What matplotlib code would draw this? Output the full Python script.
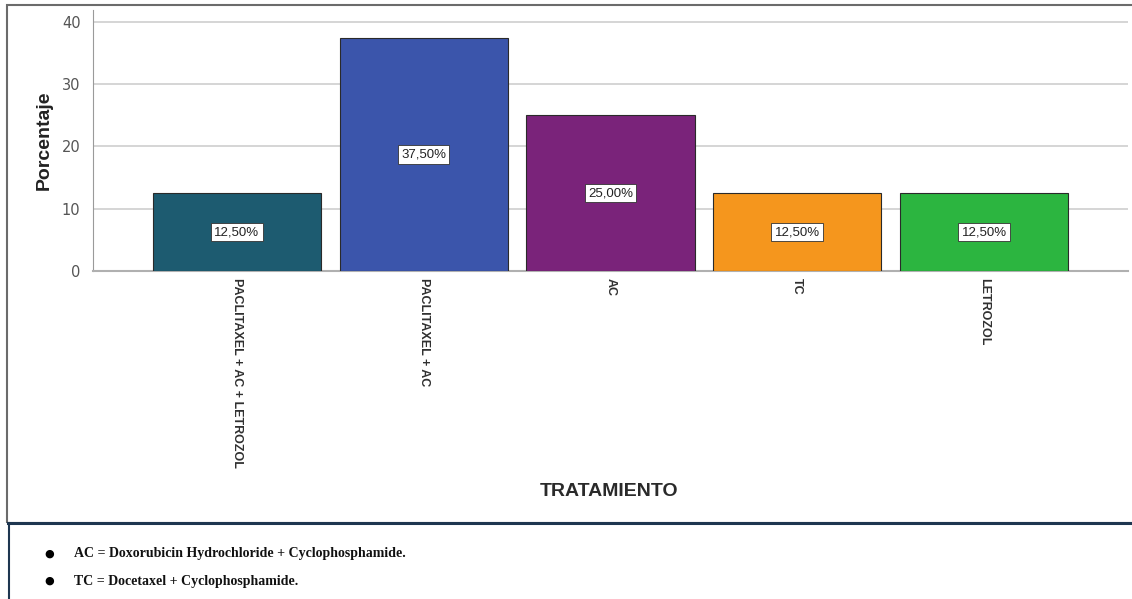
import matplotlib.pyplot as plt
from matplotlib.patches import Rectangle
from matplotlib.lines import Line2D

# treatments and share of patients (%)
tratamientos = ["PACLITAXEL + AC + LETROZOL", "PACLITAXEL + AC", "AC", "TC", "LETROZOL"]
porcentajes = [12.5, 37.5, 25.0, 12.5, 12.5]
colores = ["#1d5b70", "#3b55ab", "#7a237a", "#f5961d", "#2cb540"]
notas = ["AC = Doxorubicin Hydrochloride + Cyclophosphamide.",
         "TC = Docetaxel + Cyclophosphamide."]

W, H = 1132, 599
fig = plt.figure(figsize=(W / 100, H / 100), dpi=100)

# frame around the chart and the footnote area
fig.add_artist(Rectangle((7 / W, 1 - 523 / H), 1.0, (523 - 5) / H, transform=fig.transFigure,
                         facecolor="none", edgecolor="#6b6b6b", linewidth=1.5))
fig.add_artist(Line2D([8 / W, 1.0], [1 - 523 / H, 1 - 523 / H], transform=fig.transFigure,
                      color="#1e3650", linewidth=2.2))
fig.add_artist(Line2D([8.5 / W, 8.5 / W], [0, 1 - 523 / H], transform=fig.transFigure,
                      color="#1e3650", linewidth=1.5))

# axes placement in pixels
left, right, bottom, top = 93, 1128, 271, 9.5
ax = fig.add_axes([left / W, 1 - bottom / H, (right - left) / W, (bottom - top) / H])

x = range(len(tratamientos))
bars = ax.bar(x, porcentajes, width=0.9, color=colores, edgecolor="#2a2a2a", linewidth=0.8, zorder=3)

for b, v in zip(bars, porcentajes):
    ax.text(b.get_x() + b.get_width() / 2, v / 2, "{0:.2f}%".format(v).replace(".", ","),
            ha="center", va="center", fontsize=9.5, color="#222222", family="Liberation Sans",
            bbox=dict(boxstyle="square,pad=0.25", facecolor="white", edgecolor="#333333", linewidth=0.6),
            zorder=4)

ax.set_xlim(-0.77, 4.77)
ax.set_ylim(0, 42)
ax.set_yticks([0, 10, 20, 30, 40])
ax.yaxis.grid(True, color="#d2d2d2", linewidth=1.3, zorder=0)
ax.set_axisbelow(True)

ax.set_xticks(list(x))
ax.set_xticklabels(tratamientos, rotation=-90, va="top", ha="center",
                   fontsize=9, color="#303030", family="Liberation Sans", fontweight="bold")
ax.tick_params(axis="both", length=0)
ax.tick_params(axis="y", pad=9, labelsize=10.5, labelcolor="#555555")
ax.tick_params(axis="x", pad=5)

for s in ["top", "right"]:
    ax.spines[s].set_visible(False)
ax.spines["left"].set_color("#9a9a9a")
ax.spines["bottom"].set_color("#b0b0b0")
ax.spines["bottom"].set_linewidth(1.5)

fig.text(44 / W, 1 - 140 / H, "Porcentaje", rotation=90, ha="center", va="center",
         fontsize=14, fontweight="bold", color="#222222", family="Liberation Sans")
fig.text(609 / W, 1 - 492 / H, "TRATAMIENTO", ha="center", va="center",
         fontsize=14, fontweight="bold", color="#2a2a2a", family="Liberation Sans")

# footnotes
for i, nota in enumerate(notas):
    yy = 1 - (554 + i * 27) / H
    fig.text(49 / W, yy, "\u25cf", ha="center", va="center", fontsize=8, color="black",
             family="DejaVu Sans")
    fig.text(74 / W, yy, nota, ha="left", va="center", fontsize=10, fontweight="bold",
             color="#111111", family="Liberation Serif")

plt.savefig("out.png", dpi=100)
